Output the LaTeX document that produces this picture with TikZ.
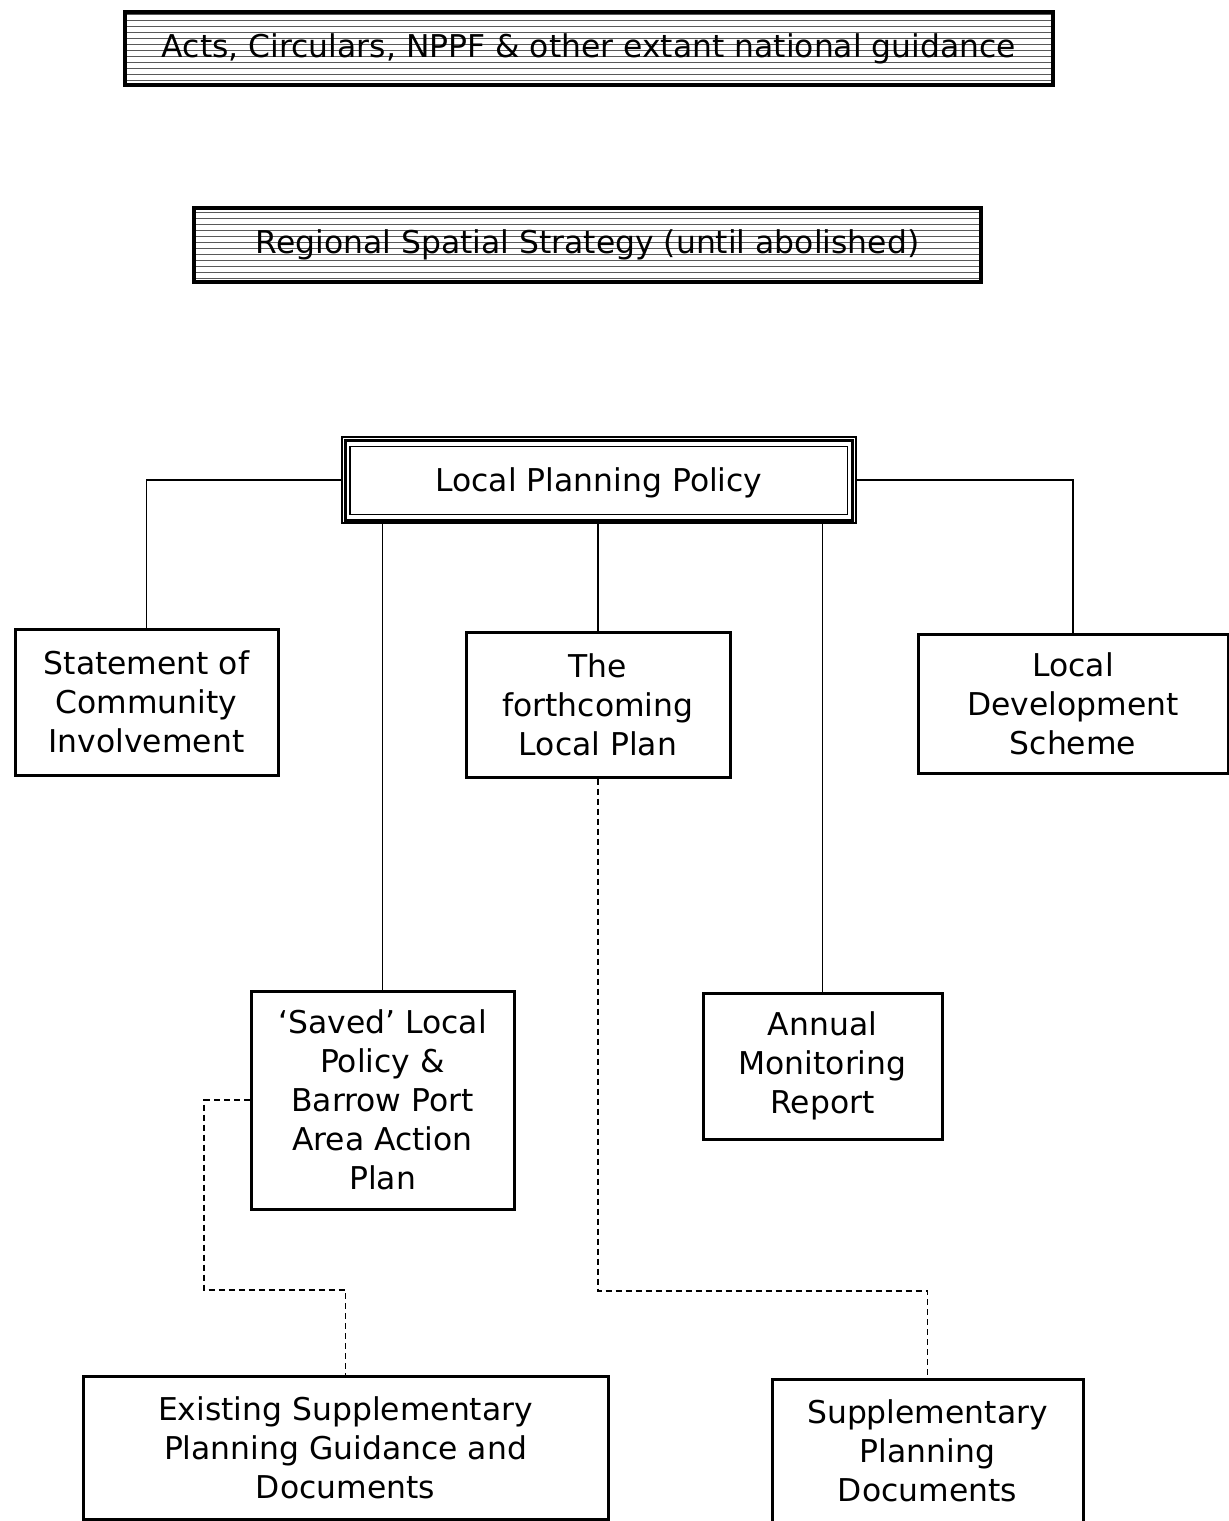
\documentclass[tikz,border=0pt]{standalone}
\usepackage{fontspec}
\setmainfont{DejaVu Sans}
\usetikzlibrary{patterns}
\begin{document}
\begin{tikzpicture}[x=0.5pt,y=-0.5pt,
  box/.style={draw,line width=1.5pt,align=center,inner sep=0pt,font=\fontsize{15.7}{19.5}\selectfont},
  hatch/.style={box,line width=1.9pt,pattern=horizontal lines,pattern color=black!65},
  conn/.style={line width=0.8pt},
  dconn/.style={line width=0.8pt,dash pattern=on 3pt off 2pt}]
\useasboundingbox (0,0) rectangle (1229,1521);
\node[hatch,minimum width=464pt,minimum height=36.5pt] (acts) at (589,48.5) {Acts, Circulars, NPPF \& other extant national guidance};
\node[hatch,minimum width=393.5pt,minimum height=37pt] (rss) at (587.5,245) {Regional Spatial Strategy (until abolished)};
\node[box,line width=0.6pt,minimum width=257pt,minimum height=43pt,text depth=0pt,yshift=-1.5pt] (lpp) at (599,477) {Local Planning Policy};
\draw[line width=1.5pt] ([shift={(2pt,1.8pt)}]lpp.south west) rectangle ([shift={(-2pt,-1.8pt)}]lpp.north east);
\draw[line width=0.7pt] ([shift={(4.2pt,4.5pt)}]lpp.south west) rectangle ([shift={(-4.5pt,-5pt)}]lpp.north east);
\node[box,minimum width=131.5pt,minimum height=73pt] (sci) at (146.5,702) {Statement of\\Community\\Involvement};
\node[box,minimum width=132pt,minimum height=72.5pt] (flp) at (598,704.5) {The\\forthcoming\\Local Plan};
\node[box,minimum width=155pt,minimum height=69.5pt] (lds) at (1073,703.5) {Local\\Development\\Scheme};
\node[box,minimum width=131.5pt,minimum height=109pt] (saved) at (382.5,1100) {`Saved' Local\\Policy \&\\Barrow Port\\Area Action\\Plan};
\node[box,minimum width=119.5pt,minimum height=73pt] (amr) at (822.5,1066) {Annual\\Monitoring\\Report};
\node[box,minimum width=262.5pt,minimum height=71.5pt] (esp) at (345.5,1447.5) {Existing Supplementary\\Planning Guidance and\\Documents};
\node[box,minimum width=155.5pt,minimum height=72pt] (spd) at (927.5,1451) {Supplementary\\Planning\\Documents};
\coordinate (j1) at (0,1291);
\coordinate (k) at (204,1290);
\draw[conn] (lpp.west) -| (sci.north);
\draw[conn] (lpp.east) -| (lds.north);
\draw[conn] (saved.north) -- (saved.north |- lpp.south);
\draw[conn] (flp.north) -- (flp.north |- lpp.south);
\draw[conn] (amr.north) -- (amr.north |- lpp.south);
\draw[dconn] (flp.south) |- (spd.north |- j1) -- (spd.north);
\draw[dconn] (saved.west) -| (k) -| (esp.north);
\end{tikzpicture}
\end{document}
